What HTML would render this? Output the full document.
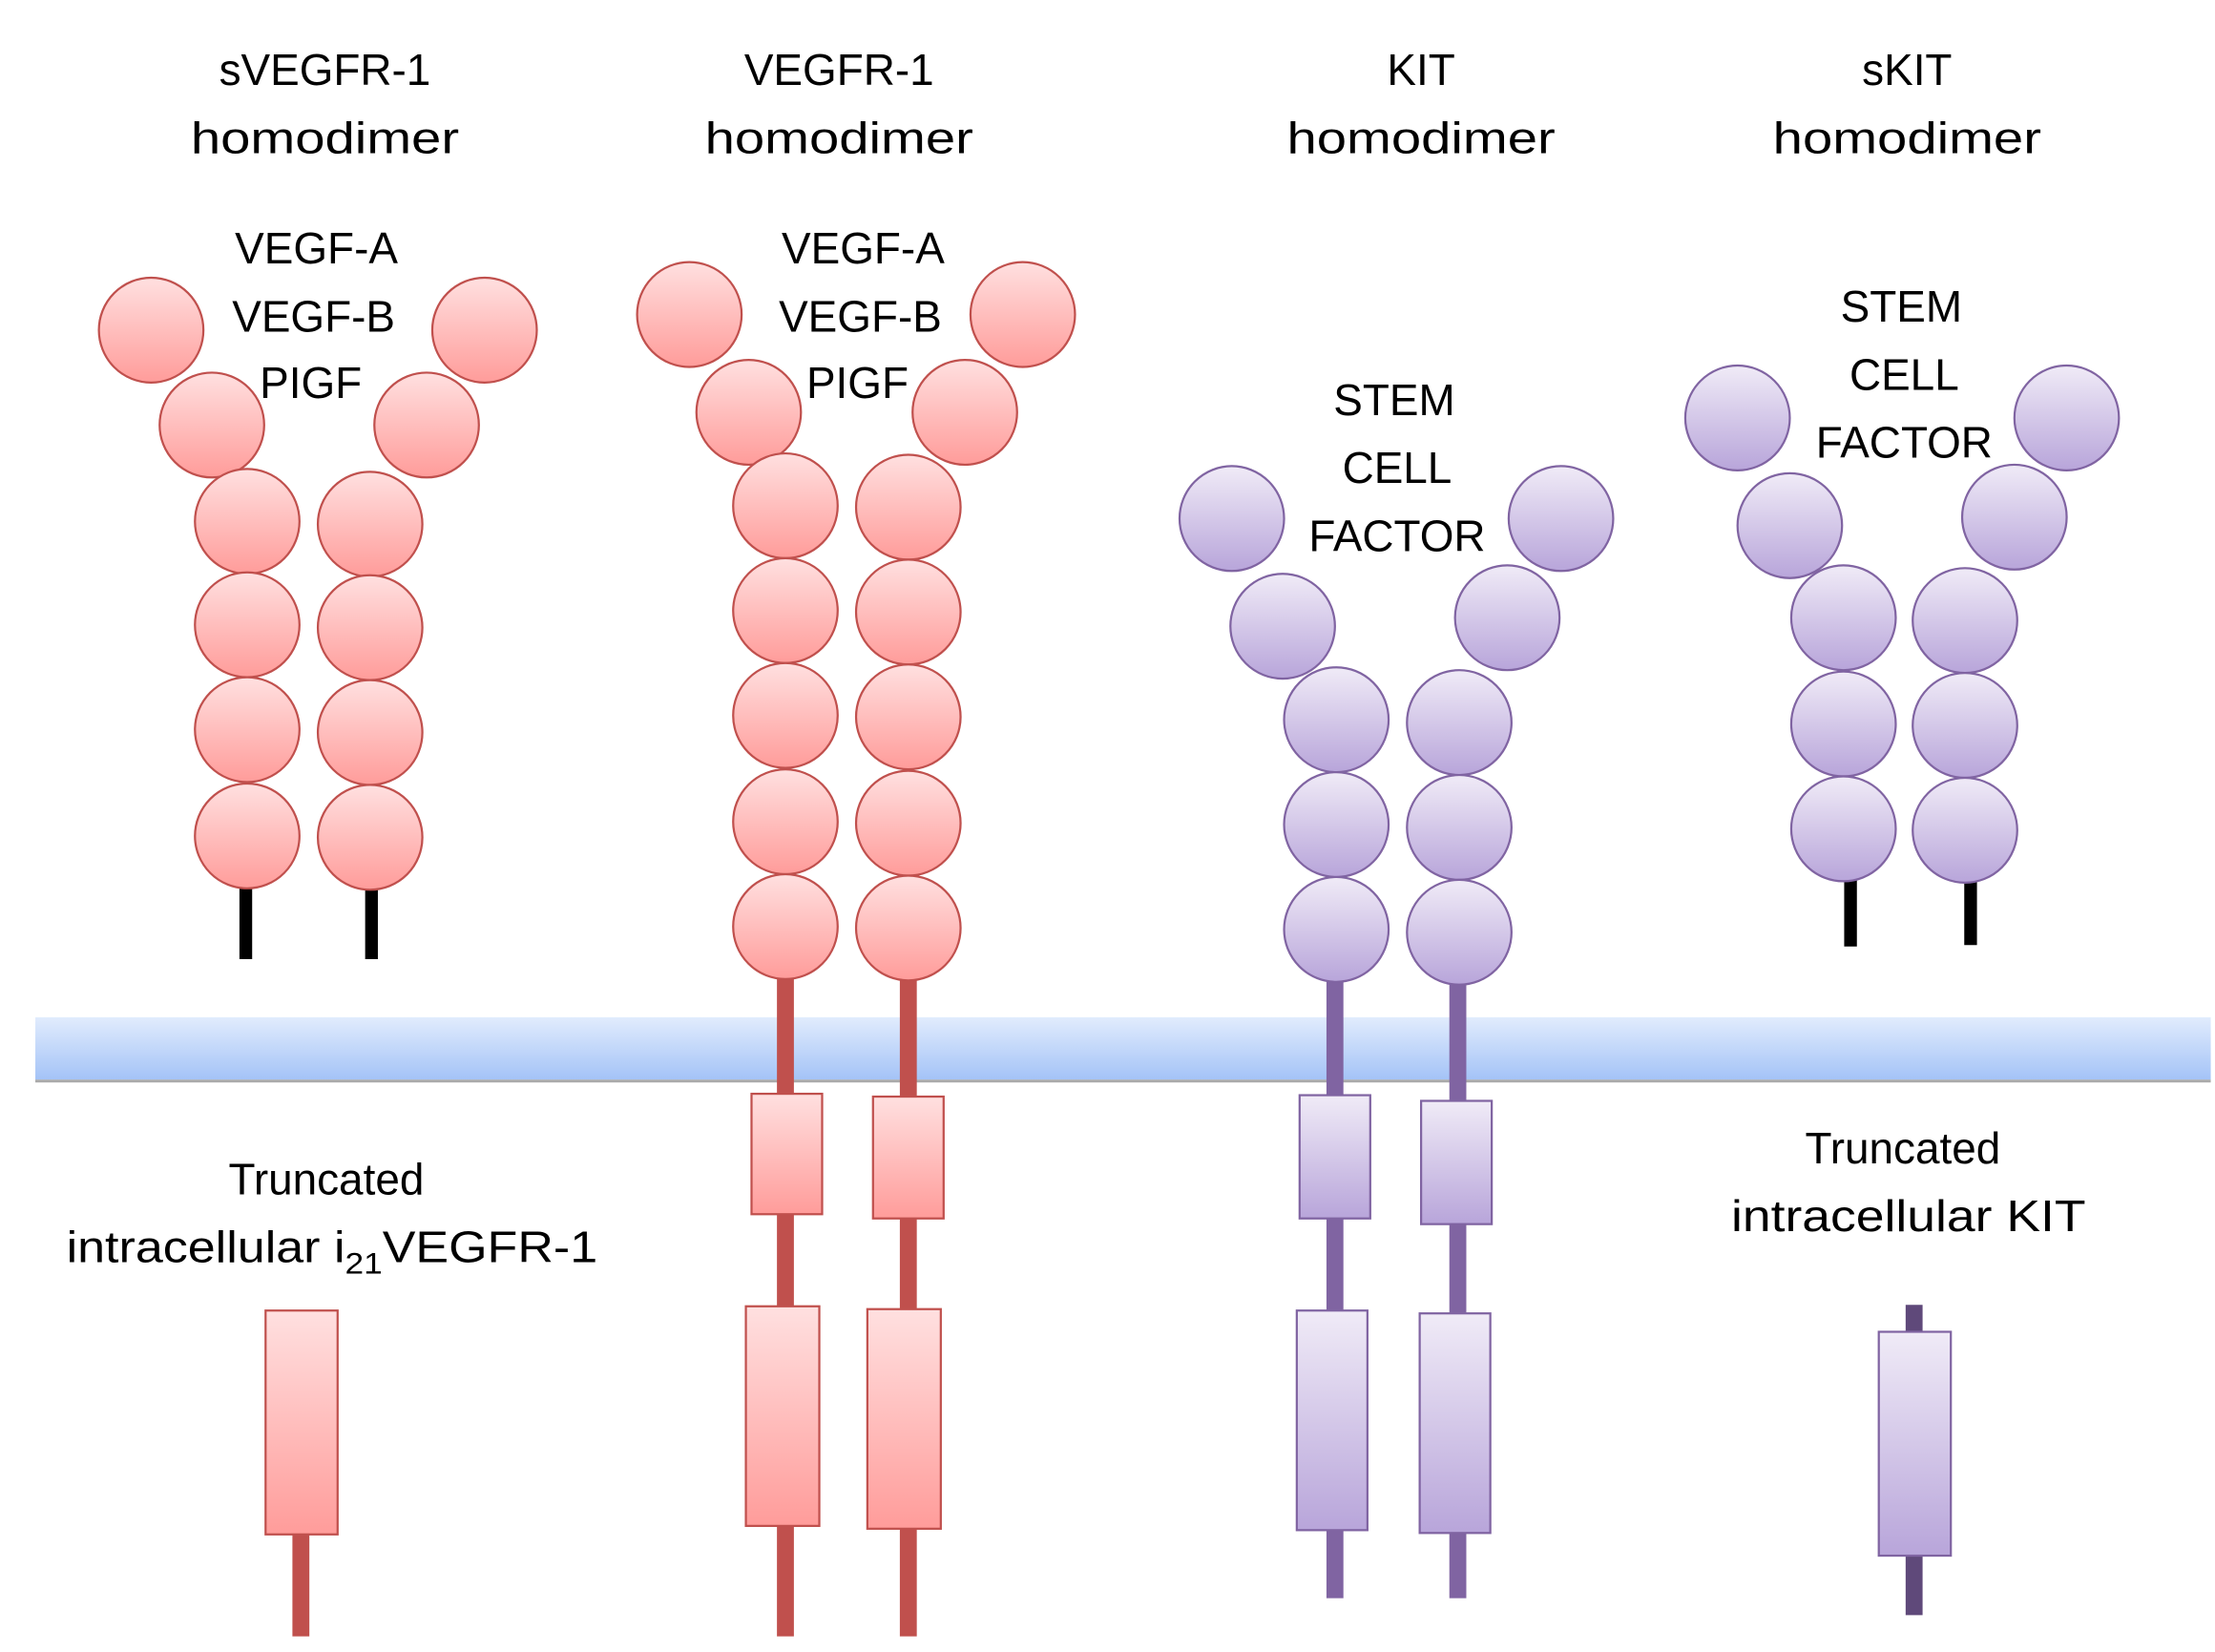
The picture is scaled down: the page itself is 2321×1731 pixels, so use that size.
<!DOCTYPE html>
<html><head><meta charset="utf-8"><style>html,body{margin:0;padding:0;background:#fff}svg{display:block}</style></head>
<body>
<svg width="2321" height="1731" viewBox="0 0 1568 1166" preserveAspectRatio="none" xmlns="http://www.w3.org/2000/svg" font-family="Liberation Sans, sans-serif" font-size="31" fill="#000">
<defs>
<linearGradient id="rg" x1="0" y1="0" x2="0" y2="1"><stop offset="0" stop-color="#ffe0e0"/><stop offset="1" stop-color="#ff9c9a"/></linearGradient>
<linearGradient id="pg" x1="0" y1="0" x2="0" y2="1"><stop offset="0" stop-color="#f0ebf7"/><stop offset="1" stop-color="#b8a5da"/></linearGradient>
<linearGradient id="mg" x1="0" y1="0" x2="0" y2="1"><stop offset="0" stop-color="#e1ecfd"/><stop offset="1" stop-color="#a4c3f7"/></linearGradient>
</defs>
<!-- membrane -->
<rect x="25" y="718" width="1540" height="44" fill="url(#mg)"/>
<line x1="25" y1="763" x2="1565" y2="763" stroke="#aaa" stroke-width="2"/>

<!-- sVEGFR-1 -->
<g stroke="#000" stroke-width="9"><line x1="174" y1="626" x2="174" y2="677"/><line x1="263" y1="626" x2="263" y2="677"/></g>
<g fill="url(#rg)" stroke="#c0504d" stroke-width="1.5">
<circle cx="107" cy="233" r="37"/><circle cx="343" cy="233" r="37"/>
<circle cx="150" cy="300" r="37"/><circle cx="302" cy="300" r="37"/>
<circle cx="175" cy="368" r="37"/><circle cx="262" cy="370" r="37"/>
<circle cx="175" cy="441" r="37"/><circle cx="262" cy="443" r="37"/>
<circle cx="175" cy="515" r="37"/><circle cx="262" cy="517" r="37"/>
<circle cx="175" cy="590" r="37"/><circle cx="262" cy="591" r="37"/>
</g>
<line x1="213" y1="1080" x2="213" y2="1155" stroke="#c0504d" stroke-width="12"/>
<rect x="188" y="925" width="51" height="158" fill="url(#rg)" stroke="#c0504d" stroke-width="1.5"/>

<!-- VEGFR-1 -->
<g stroke="#c0504d" stroke-width="12"><line x1="556" y1="680" x2="556" y2="1155"/><line x1="643" y1="680" x2="643" y2="1155"/></g>
<g fill="url(#rg)" stroke="#c0504d" stroke-width="1.5">
<circle cx="488" cy="222" r="37"/><circle cx="724" cy="222" r="37"/>
<circle cx="530" cy="291" r="37"/><circle cx="683" cy="291" r="37"/>
<circle cx="556" cy="357" r="37"/><circle cx="643" cy="358" r="37"/>
<circle cx="556" cy="431" r="37"/><circle cx="643" cy="432" r="37"/>
<circle cx="556" cy="505" r="37"/><circle cx="643" cy="506" r="37"/>
<circle cx="556" cy="580" r="37"/><circle cx="643" cy="581" r="37"/>
<circle cx="556" cy="654" r="37"/><circle cx="643" cy="655" r="37"/>
<rect x="532" y="772" width="50" height="85"/><rect x="618" y="774" width="50" height="86"/>
<rect x="528" y="922" width="52" height="155"/><rect x="614" y="924" width="52" height="155"/>
</g>

<!-- KIT -->
<g stroke="#8064a2" stroke-width="12"><line x1="945" y1="680" x2="945" y2="1128"/><line x1="1032" y1="680" x2="1032" y2="1128"/></g>
<g fill="url(#pg)" stroke="#8064a2" stroke-width="1.5">
<circle cx="872" cy="366" r="37"/><circle cx="1105" cy="366" r="37"/>
<circle cx="908" cy="442" r="37"/><circle cx="1067" cy="436" r="37"/>
<circle cx="946" cy="508" r="37"/><circle cx="1033" cy="510" r="37"/>
<circle cx="946" cy="582" r="37"/><circle cx="1033" cy="584" r="37"/>
<circle cx="946" cy="656" r="37"/><circle cx="1033" cy="658" r="37"/>
<rect x="920" y="773" width="50" height="87"/><rect x="1006" y="777" width="50" height="87"/>
<rect x="918" y="925" width="50" height="155"/><rect x="1005" y="927" width="50" height="155"/>
</g>

<!-- sKIT -->
<g stroke="#000" stroke-width="9"><line x1="1310" y1="618" x2="1310" y2="668"/><line x1="1395" y1="618" x2="1395" y2="667"/></g>
<g fill="url(#pg)" stroke="#8064a2" stroke-width="1.5">
<circle cx="1230" cy="295" r="37"/><circle cx="1463" cy="295" r="37"/>
<circle cx="1267" cy="371" r="37"/><circle cx="1426" cy="365" r="37"/>
<circle cx="1305" cy="436" r="37"/><circle cx="1391" cy="438" r="37"/>
<circle cx="1305" cy="511" r="37"/><circle cx="1391" cy="512" r="37"/>
<circle cx="1305" cy="585" r="37"/><circle cx="1391" cy="586" r="37"/>
</g>
<line x1="1355" y1="921" x2="1355" y2="1140" stroke="#5f497a" stroke-width="12"/>
<rect x="1330" y="940" width="51" height="158" fill="url(#pg)" stroke="#8064a2" stroke-width="1.5"/>

<!-- text -->
<g text-anchor="middle">
<text x="230" y="60">sVEGFR-1</text><text x="230" y="108" textLength="190" lengthAdjust="spacingAndGlyphs">homodimer</text>
<text x="594" y="60">VEGFR-1</text><text x="594" y="108" textLength="190" lengthAdjust="spacingAndGlyphs">homodimer</text>
<text x="1006" y="60">KIT</text><text x="1006" y="108" textLength="190" lengthAdjust="spacingAndGlyphs">homodimer</text>
<text x="1350" y="60">sKIT</text><text x="1350" y="108" textLength="190" lengthAdjust="spacingAndGlyphs">homodimer</text>
<text x="224" y="186">VEGF-A</text><text x="222" y="234">VEGF-B</text><text x="220" y="281">PIGF</text>
<text x="611" y="186">VEGF-A</text><text x="609" y="234">VEGF-B</text><text x="607" y="281">PIGF</text>
<text x="987" y="293">STEM</text><text x="989" y="341">CELL</text><text x="989" y="389">FACTOR</text>
<text x="1346" y="227">STEM</text><text x="1348" y="275">CELL</text><text x="1348" y="323">FACTOR</text>
<text x="231" y="843">Truncated</text>
<text x="1347" y="821">Truncated</text>
<text x="1351" y="869" textLength="251" lengthAdjust="spacingAndGlyphs">intracellular KIT</text>
</g>
<text x="47" y="891" textLength="376" lengthAdjust="spacingAndGlyphs">intracellular i<tspan font-size="21" dy="8">21</tspan><tspan dy="-8">VEGFR-1</tspan></text>
</svg>
</body></html>
